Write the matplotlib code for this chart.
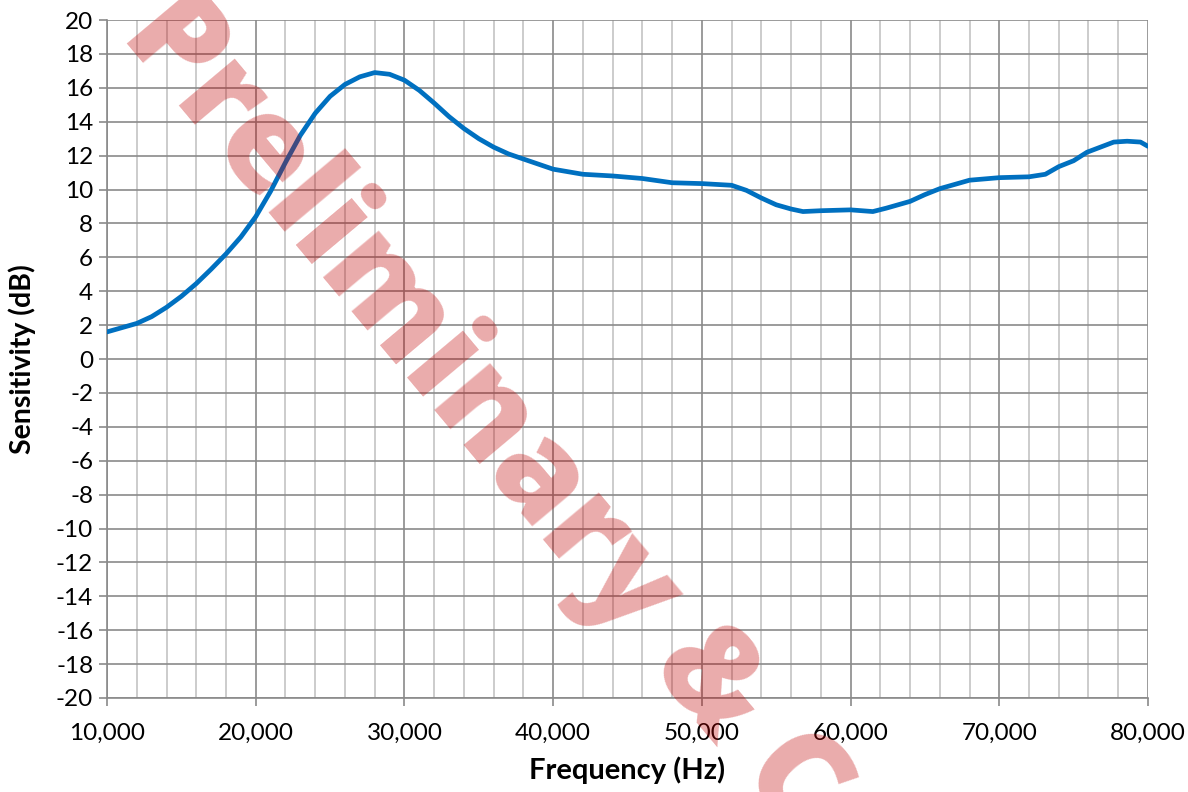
import matplotlib.pyplot as plt
from matplotlib.ticker import MultipleLocator, FuncFormatter

# frequency response
freq = [10000, 11000, 12000, 13000, 14000, 15000, 16000, 17000, 18000, 19000,
        20000, 21000, 22000, 23000, 24000, 25000, 26000, 27000, 28000, 29000,
        30000, 31000, 32000, 33000, 34000, 35000, 36000, 37000, 38000, 39000,
        40000, 42000, 44000, 46000, 48000, 50000, 52000, 53000, 54000, 55000,
        56000, 56800, 58000, 60000, 61500, 62400, 64000, 65000, 66000, 68000,
        70000, 72000, 73100, 74000, 75000, 75900, 76800, 77700, 78600, 79500,
        80000]
sens = [1.6, 1.85, 2.1, 2.5, 3.05, 3.7, 4.45, 5.3, 6.2, 7.2,
        8.4, 9.9, 11.6, 13.2, 14.5, 15.5, 16.2, 16.65, 16.9, 16.8,
        16.45, 15.85, 15.1, 14.3, 13.6, 13.0, 12.5, 12.1, 11.8, 11.5,
        11.2, 10.9, 10.8, 10.65, 10.4, 10.35, 10.25, 9.95, 9.5, 9.1,
        8.85, 8.7, 8.75, 8.8, 8.7, 8.9, 9.3, 9.7, 10.05, 10.55,
        10.7, 10.75, 10.9, 11.35, 11.7, 12.2, 12.5, 12.8, 12.85, 12.8,
        12.55]

x_major = 10000
x_minor = 2000
y_step = 2

plt.rcParams['font.family'] = ['Lato', 'DejaVu Sans']
plt.rcParams['axes.unicode_minus'] = False

fig = plt.figure(figsize=(11.88, 7.92), dpi=100)
ax = fig.add_axes([0.0901, 0.1187, 0.8762, 0.856])

ax.plot(freq, sens, color='#0070C0', lw=3.4, solid_capstyle='round', zorder=3)

ax.set_xlim(10000, 80000)
ax.set_ylim(-20, 20)
ax.xaxis.set_major_locator(MultipleLocator(x_major))
ax.xaxis.set_minor_locator(MultipleLocator(x_minor))
ax.yaxis.set_major_locator(MultipleLocator(y_step))
ax.xaxis.set_major_formatter(FuncFormatter(lambda v, p: f'{int(v):,}'))

# grid
ax.set_axisbelow(True)
ax.grid(which='minor', axis='x', color='#c4c4c4', lw=1.2)
ax.grid(which='major', axis='x', color='#8a8a8a', lw=1.2)
ax.grid(which='major', axis='y', color='#8a8a8a', lw=1.2)

for s in ['top', 'right']:
    ax.spines[s].set_visible(False)
for s in ['left', 'bottom']:
    ax.spines[s].set_color('#8a8a8a')
    ax.spines[s].set_linewidth(1.2)

ax.tick_params(which='major', length=6, width=1.2, color='#8a8a8a',
               labelsize=17.5, labelcolor='black', pad=4)
ax.tick_params(which='minor', length=0)
ax.tick_params(axis='x', pad=12)

ax.set_xlabel('Frequency (Hz)', fontsize=21, fontweight='bold', labelpad=9)
ax.set_ylabel('Sensitivity (dB)', fontsize=20.5, fontweight='bold', labelpad=14)

# watermark, sized so that "Preliminary" spans about 790 px
wm_font = dict(family='Open Sans', fontweight=800)
probe = fig.text(0, 0, 'Preliminary', fontsize=100, **wm_font)
w = probe.get_window_extent(fig.canvas.get_renderer()).width
probe.remove()
fig.text(0.101, 0.955, 'Preliminary & Confidential', fontsize=100 * 790 / w,
         color='#c00000', alpha=0.33, rotation=-50,
         rotation_mode='anchor', ha='left', va='baseline', **wm_font)

fig.savefig('out.png', dpi=100)
